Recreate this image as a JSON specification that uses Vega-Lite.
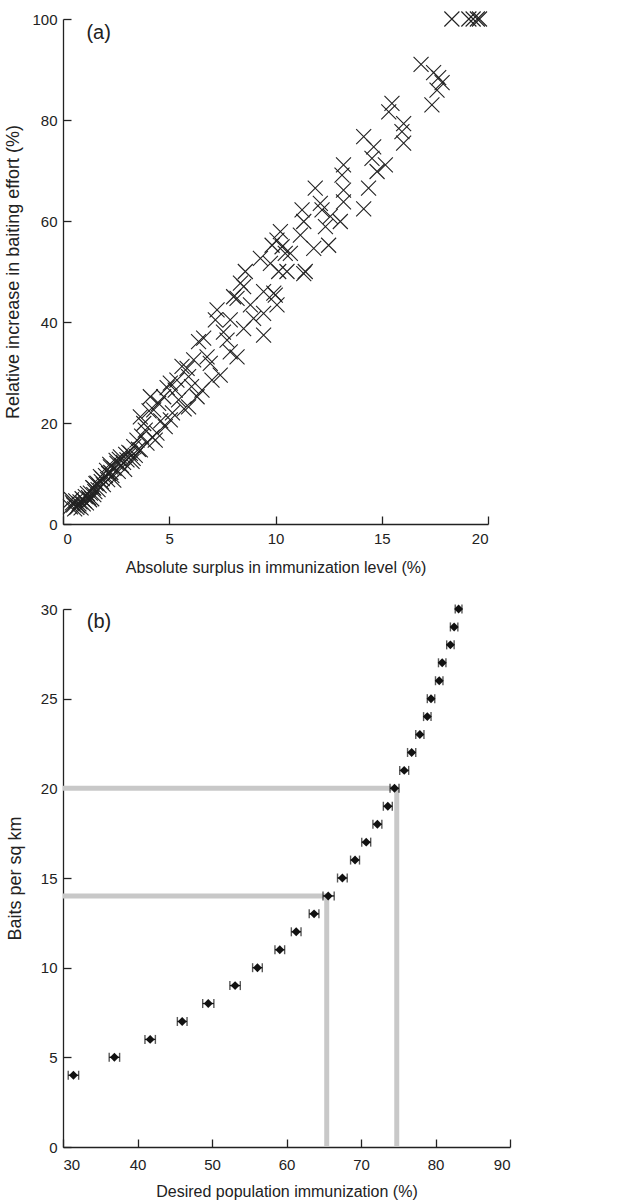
{
  "$schema": "https://vega.github.io/schema/vega-lite/v6.json",
  "padding": {"top": 9, "left": 4, "right": 5, "bottom": 2},
  "background": "white",
  "spacing": 27,
  "config": {
    "view": {"stroke": null},
    "font": "Liberation Sans",
    "axis": {
      "grid": false,
      "labelFont": "Liberation Sans",
      "labelFontSize": 15,
      "labelColor": "#222",
      "titleFont": "Liberation Sans",
      "titleFontSize": 16,
      "titleFontWeight": "normal",
      "titleColor": "#222",
      "domainColor": "#222",
      "domainWidth": 1.3,
      "tickColor": "#222",
      "tickWidth": 1.3,
      "tickSize": -8
    }
  },
  "vconcat": [
    {
      "width": 425,
      "height": 505,
      "data": {
        "values": [
          {"x":0.35,"y":3.4},{"x":0.45,"y":4.2},{"x":0.5,"y":3.8},{"x":0.55,"y":3.0},{"x":0.6,"y":4.6},{"x":0.7,"y":3.6},{"x":0.75,"y":4.0},{"x":0.8,"y":4.4},{"x":0.85,"y":3.2},{"x":0.9,"y":5.0},
          {"x":0.4,"y":4.8},{"x":0.65,"y":3.3},{"x":0.95,"y":4.0},{"x":1.25,"y":4.8},{"x":1.45,"y":5.8},{"x":1.85,"y":9.0},{"x":2.25,"y":10.2},{"x":2.65,"y":12.8},{"x":2.95,"y":13.8},{"x":3.3,"y":13.0},
          {"x":1.0,"y":4.6},{"x":1.05,"y":5.4},{"x":1.1,"y":4.2},{"x":1.15,"y":6.0},{"x":1.2,"y":5.2},{"x":1.29,"y":6.1},{"x":1.35,"y":5.0},{"x":1.4,"y":7.2},{"x":1.44,"y":7.1},{"x":1.5,"y":6.4},
          {"x":1.55,"y":8.0},{"x":1.6,"y":8.1},{"x":1.65,"y":6.8},{"x":1.7,"y":7.6},{"x":1.76,"y":9.4},{"x":1.8,"y":8.4},{"x":1.9,"y":7.8},{"x":2.0,"y":9.6},{"x":2.05,"y":10.6},{"x":2.1,"y":8.8},
          {"x":2.15,"y":10.0},{"x":2.2,"y":11.8},{"x":2.23,"y":11.3},{"x":2.3,"y":9.6},{"x":2.39,"y":8.7},{"x":2.4,"y":11.0},{"x":2.5,"y":12.6},{"x":2.54,"y":12.0},{"x":2.6,"y":10.4},{"x":2.7,"y":13.3},
          {"x":2.75,"y":11.6},{"x":2.85,"y":12.2},{"x":2.9,"y":10.8},{"x":3.01,"y":12.7},{"x":3.1,"y":14.2},{"x":3.17,"y":14.0},{"x":3.25,"y":12.4},{"x":3.33,"y":15.3},{"x":3.4,"y":13.6},{"x":3.48,"y":16.6},
          {"x":3.55,"y":14.8},{"x":3.64,"y":14.7},{"x":3.64,"y":21.2},{"x":3.7,"y":17.4},{"x":3.8,"y":19.9},{"x":3.87,"y":18.6},{"x":3.95,"y":16.0},{"x":4.05,"y":22.4},{"x":4.11,"y":25.2},{"x":4.2,"y":17.2},
          {"x":4.27,"y":22.6},{"x":4.34,"y":16.6},{"x":4.42,"y":18.0},{"x":4.5,"y":23.9},{"x":4.6,"y":20.4},{"x":4.74,"y":25.2},{"x":4.81,"y":19.3},{"x":4.9,"y":27.0},{"x":5.05,"y":20.6},{"x":5.05,"y":27.9},
          {"x":5.15,"y":22.0},{"x":5.28,"y":26.5},{"x":5.36,"y":28.5},{"x":5.44,"y":24.6},{"x":5.6,"y":31.2},{"x":5.7,"y":22.8},{"x":5.84,"y":30.8},{"x":5.91,"y":29.2},{"x":5.91,"y":23.2},{"x":6.05,"y":27.2},
          {"x":6.15,"y":32.5},{"x":6.31,"y":25.2},{"x":6.38,"y":36.1},{"x":6.54,"y":26.5},{"x":6.62,"y":36.8},{"x":6.78,"y":33.1},{"x":6.93,"y":31.8},{"x":7.01,"y":28.5},{"x":7.17,"y":40.4},{"x":7.25,"y":42.4},
          {"x":7.4,"y":29.5},{"x":7.55,"y":38.0},{"x":7.72,"y":36.4},{"x":7.87,"y":34.1},{"x":7.87,"y":40.4},{"x":8.03,"y":45.0},{"x":8.19,"y":33.1},{"x":8.19,"y":44.7},{"x":8.35,"y":47.7},{"x":8.5,"y":38.7},
          {"x":8.5,"y":47.0},{"x":8.58,"y":50.0},{"x":8.82,"y":43.4},{"x":8.97,"y":40.7},{"x":9.29,"y":52.6},{"x":9.44,"y":37.4},{"x":9.44,"y":41.7},{"x":9.44,"y":46.0},{"x":9.76,"y":51.6},{"x":9.84,"y":55.2},
          {"x":9.92,"y":45.7},{"x":9.99,"y":45.3},{"x":10.07,"y":43.4},{"x":10.07,"y":56.2},{"x":10.15,"y":50.0},{"x":10.23,"y":57.9},{"x":10.31,"y":54.9},{"x":10.46,"y":53.6},{"x":10.54,"y":50.0},{"x":10.7,"y":53.6},
          {"x":11.17,"y":57.2},{"x":11.25,"y":62.2},{"x":11.33,"y":49.6},{"x":11.4,"y":50.0},{"x":11.33,"y":59.9},{"x":11.8,"y":54.6},{"x":11.87,"y":66.5},{"x":12.11,"y":63.5},{"x":12.19,"y":62.2},{"x":12.35,"y":58.9},
          {"x":12.5,"y":55.2},{"x":12.58,"y":60.9},{"x":13.05,"y":59.9},{"x":13.2,"y":63.8},{"x":13.2,"y":66.1},{"x":13.13,"y":69.1},{"x":13.2,"y":71.1},{"x":14.15,"y":62.4},{"x":14.38,"y":66.5},{"x":14.78,"y":69.8},
          {"x":15.17,"y":71.1},{"x":14.54,"y":72.4},{"x":14.62,"y":74.7},{"x":14.15,"y":76.7},{"x":16.03,"y":75.4},{"x":15.95,"y":77.7},{"x":16.03,"y":79.3},{"x":15.33,"y":81.6},{"x":15.48,"y":83.3},{"x":17.36,"y":83.0},
          {"x":17.6,"y":85.9},{"x":17.84,"y":87.4},{"x":17.68,"y":88.4},{"x":17.44,"y":89.4},{"x":16.85,"y":91.0},{"x":18.3,"y":100},{"x":19.1,"y":100},{"x":19.3,"y":100},{"x":19.5,"y":100},{"x":19.6,"y":100}
        ]
      },
      "layer": [
        {
          "mark": {"type": "point", "shape": "M-1,-1L1,1M1,-1L-1,1", "size": 225, "filled": false, "stroke": "#222", "strokeWidth": 1.1, "opacity": 1},
          "encoding": {
            "x": {"field": "x", "type": "quantitative", "scale": {"domain": [0, 20], "nice": false},
                  "axis": {"title": "Absolute surplus in immunization level (%)", "values": [0, 5, 10, 15, 20], "labelPadding": 15, "titlePadding": 13}},
            "y": {"field": "y", "type": "quantitative", "scale": {"domain": [0, 100], "nice": false},
                  "axis": {"title": "Relative increase in baiting effort (%)", "titleFontSize": 18, "values": [0, 20, 40, 60, 80, 100], "labelPadding": 14, "titlePadding": 9}}
          }
        },
        {
          "data": {"values": [{"x": 1.1, "y": 97.2, "t": "(a)"}]},
          "mark": {"type": "text", "align": "left", "baseline": "middle", "fontSize": 20, "font": "Liberation Sans", "color": "#222"},
          "encoding": {
            "x": {"field": "x", "type": "quantitative"},
            "y": {"field": "y", "type": "quantitative"},
            "text": {"field": "t"}
          }
        }
      ]
    },
    {
      "width": 447,
      "height": 538,
      "data": {
        "values": [
          {"y":4,"x":31.4,"lo":30.7,"hi":32.1},
          {"y":5,"x":36.9,"lo":36.2,"hi":37.6},
          {"y":6,"x":41.7,"lo":41.0,"hi":42.4},
          {"y":7,"x":46.0,"lo":45.35,"hi":46.65},
          {"y":8,"x":49.5,"lo":48.75,"hi":50.25},
          {"y":9,"x":53.1,"lo":52.4,"hi":53.8},
          {"y":10,"x":56.1,"lo":55.45,"hi":56.75},
          {"y":11,"x":59.1,"lo":58.45,"hi":59.75},
          {"y":12,"x":61.3,"lo":60.65,"hi":61.95},
          {"y":13,"x":63.7,"lo":63.05,"hi":64.35},
          {"y":14,"x":65.6,"lo":64.9,"hi":66.4},
          {"y":15,"x":67.5,"lo":66.85,"hi":68.15},
          {"y":16,"x":69.2,"lo":68.6,"hi":69.8},
          {"y":17,"x":70.7,"lo":70.1,"hi":71.3},
          {"y":18,"x":72.2,"lo":71.6,"hi":72.8},
          {"y":19,"x":73.6,"lo":73.0,"hi":74.2},
          {"y":20,"x":74.5,"lo":73.9,"hi":75.1},
          {"y":21,"x":75.8,"lo":75.2,"hi":76.4},
          {"y":22,"x":76.8,"lo":76.25,"hi":77.35},
          {"y":23,"x":77.9,"lo":77.35,"hi":78.45},
          {"y":24,"x":78.9,"lo":78.4,"hi":79.4},
          {"y":25,"x":79.4,"lo":78.9,"hi":79.9},
          {"y":26,"x":80.5,"lo":80.0,"hi":81.0},
          {"y":27,"x":80.9,"lo":80.4,"hi":81.4},
          {"y":28,"x":82.0,"lo":81.5,"hi":82.5},
          {"y":29,"x":82.5,"lo":82.0,"hi":83.0},
          {"y":30,"x":83.1,"lo":82.65,"hi":83.55}
        ]
      },
      "layer": [
        {
          "data": {"values": [
            {"x": 30, "x2": 74.8, "y": 20, "y2": 20},
            {"x": 74.8, "x2": 74.8, "y": 20, "y2": 0},
            {"x": 30, "x2": 65.4, "y": 14, "y2": 14},
            {"x": 65.4, "x2": 65.4, "y": 14, "y2": 0}
          ]},
          "mark": {"type": "rule", "color": "#c8c8c8", "strokeWidth": 5},
          "encoding": {
            "x": {"field": "x", "type": "quantitative", "scale": {"domain": [30, 90], "nice": false},
                  "axis": {"title": "Desired population immunization (%)", "values": [30, 40, 50, 60, 70, 80, 90], "labelPadding": 18, "titlePadding": 11}},
            "x2": {"field": "x2"},
            "y": {"field": "y", "type": "quantitative", "scale": {"domain": [0, 30], "nice": false},
                  "axis": {"title": "Baits per sq km", "titleFontSize": 18, "values": [0, 5, 10, 15, 20, 25, 30], "labelPadding": 14, "titlePadding": 16}},
            "y2": {"field": "y2"}
          }
        },
        {
          "mark": {"type": "rule", "color": "#111", "strokeWidth": 1.3},
          "encoding": {
            "x": {"field": "lo", "type": "quantitative"},
            "x2": {"field": "hi"},
            "y": {"field": "y", "type": "quantitative"}
          }
        },
        {
          "mark": {"type": "tick", "orient": "vertical", "color": "#111", "size": 9, "thickness": 1.4},
          "encoding": {
            "x": {"field": "lo", "type": "quantitative"},
            "y": {"field": "y", "type": "quantitative"}
          }
        },
        {
          "mark": {"type": "tick", "orient": "vertical", "color": "#111", "size": 9, "thickness": 1.4},
          "encoding": {
            "x": {"field": "hi", "type": "quantitative"},
            "y": {"field": "y", "type": "quantitative"}
          }
        },
        {
          "mark": {"type": "point", "shape": "diamond", "filled": true, "color": "#111", "size": 80, "opacity": 1},
          "encoding": {
            "x": {"field": "x", "type": "quantitative"},
            "y": {"field": "y", "type": "quantitative"}
          }
        },
        {
          "data": {"values": [{"x": 33.2, "y": 29.25, "t": "(b)"}]},
          "mark": {"type": "text", "align": "left", "baseline": "middle", "fontSize": 20, "font": "Liberation Sans", "color": "#222"},
          "encoding": {
            "x": {"field": "x", "type": "quantitative"},
            "y": {"field": "y", "type": "quantitative"},
            "text": {"field": "t"}
          }
        }
      ]
    }
  ]
}
